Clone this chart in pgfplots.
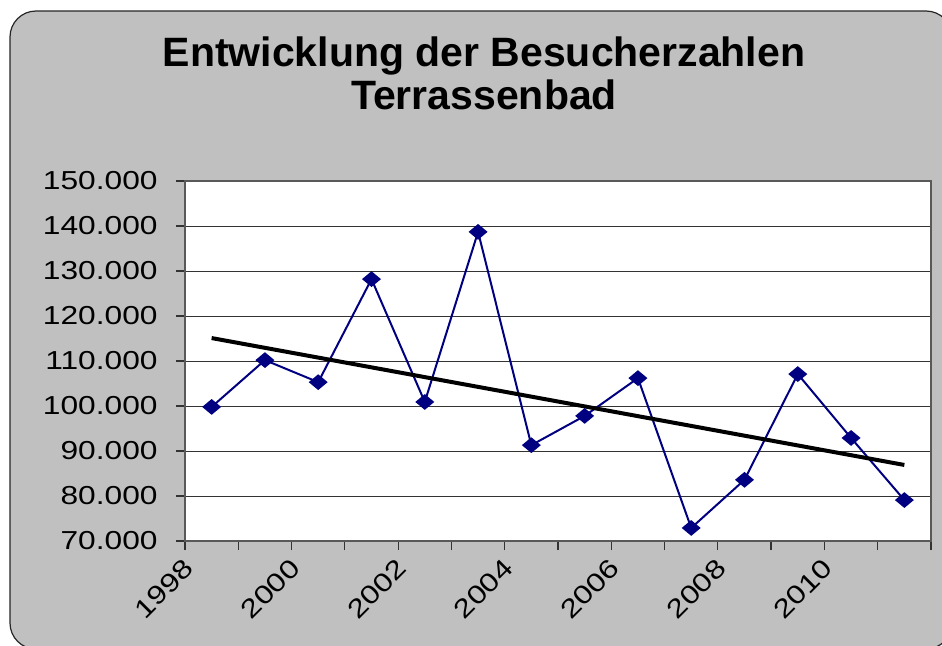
\documentclass[border=0pt]{standalone}
\usepackage{fontspec}
\setmainfont{Liberation Sans}
\newfontfamily\tickfont[FakeStretch=1.22]{Liberation Sans}
\usepackage{pgfplots}
\pgfplotsset{compat=1.18}
\definecolor{bg}{RGB}{192,192,192}
\definecolor{navyline}{RGB}{0,0,128}
\begin{document}
\begin{tikzpicture}[x=1pt,y=1pt]
\useasboundingbox (0,0) rectangle (471,322.5);
\clip (0,0) rectangle (471,322.5);
\draw[fill=bg, draw=black!85, line width=0.6pt, rounded corners=13pt] (5,-2) rectangle (476,317);
\node[align=center, font=\fontsize{20.5}{21.5}\selectfont\bfseries] at (242,286) {Entwicklung der Besucherzahlen\\Terrassenbad};
\begin{axis}[
  at={(92.5pt,52pt)}, anchor=south west,
  scale only axis, width=373pt, height=180pt,
  xmin=1998, xmax=2012, ymin=70000, ymax=150000,
  axis background/.style={fill=white},
  xtick={1998,1999,...,2012},
  xticklabels={1998,,2000,,2002,,2004,,2006,,2008,,2010,,},
  ytick={70000,80000,...,150000},
  yticklabels={70.000,80.000,90.000,100.000,110.000,120.000,130.000,140.000,150.000},
  xtick pos=bottom, ytick pos=left,
  scaled y ticks=false,
  tick align=outside,
  major tick length=4.5pt,
  tick style={black!80, line width=0.6pt},
  ymajorgrids, grid style={black!80, line width=0.5pt},
  axis line style={black!65, line width=0.9pt},
  yticklabel style={font=\tickfont\fontsize{13}{13}\selectfont, anchor=east, inner sep=0pt, xshift=-9pt},
  xticklabel style={font=\tickfont\fontsize{13}{13}\selectfont, rotate=45, anchor=north east, inner sep=0pt, xshift=-3.5pt, yshift=-1.5pt},
  clip=false,
]
\addplot[navyline, line width=1pt, mark=diamond*, mark size=3.3pt, mark options={fill=navyline, draw=navyline, xscale=1.6}] coordinates {
(1998.5,99800) (1999.5,110200) (2000.5,105300) (2001.5,128200) (2002.5,100900)
(2003.5,138700) (2004.5,91300) (2005.5,97800) (2006.5,106200) (2007.5,72900)
(2008.5,83600) (2009.5,107100) (2010.5,92900) (2011.5,79100)
};
\addplot[black, line width=2pt, no marks] coordinates {(1998.5,115100) (2011.5,86900)};
\end{axis}
\end{tikzpicture}
\end{document}
